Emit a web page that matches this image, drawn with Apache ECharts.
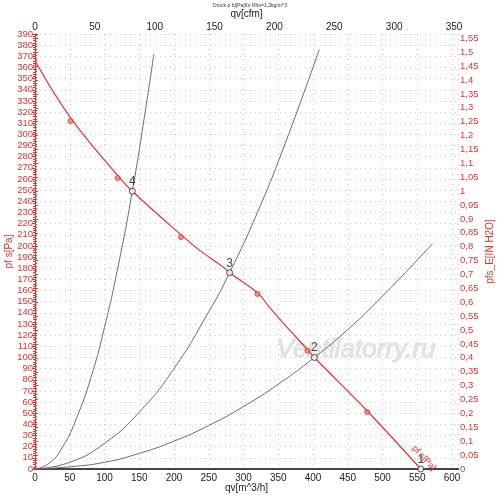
<!DOCTYPE html>
<html>
<head>
<meta charset="utf-8">
<script src="https://cdn.jsdelivr.net/npm/echarts@6/dist/echarts.min.js"></script>
<style>
  html, body { margin: 0; padding: 0; background: #fff; }
  #chart { width: 500px; height: 502px; }
</style>
</head>
<body>
<div id="chart"></div>
<script>
// fan curve pf s [Pa] over qv [m^3/h]
var fanCurve = [[0,366],[51,315],[119,263],[140,249],[210,210],[237,196],[271,181],[280,176],
    [320,158],[336,146],[357,131],[392,107],[402,100],[478,52],[555,0]];
// measured points on the fan curve
var fanPoints = [[51,312],[119,261],[210,208],[320,157],[392,106],[478,51]];
// operating points 1..4
var opPoints = [[555,0,'1'],[402,100,'2'],[280,176,'3'],[140,249,'4']];
// system curves
var sysCurve4 = [[0,0],[20,5],[40,20],[60,46],[80,81],[100,127],[120,183],[140,249],[160,326],[171,372]];
var sysCurve3 = [[0,0],[50,6],[100,23],[150,51],[200,90],[250,141],[280,176],[320,230],[360,292],[409,376]];
var sysCurve2 = [[0,0],[50,2],[100,6],[150,14],[200,25],[250,39],[300,56],[350,76],[402,100],[450,125],[500,155],[572,202]];

var RED = '#e8302c';
var paToInH2O = 1 / 249.089;

function comma(v){
    return String(+v.toFixed(2)).replace('.', ',');
}

var chartDom = document.getElementById('chart');
var myChart = echarts.init(chartDom);
var option;

option = {
    animation: false,
    textStyle: { fontFamily: 'Liberation Sans, Arial, sans-serif' },
    grid: { left: 35, right: 42, top: 34, bottom: 33, containLabel: false, outerBoundsMode: 'none' },
    xAxis: [
        {
            type: 'value', position: 'bottom', min: 0, max: 608.6, interval: 50,
            name: 'qv[m^3/h]', nameLocation: 'middle', nameGap: 14, nameMoveOverlap: false,
            nameTextStyle: { color: '#222', fontSize: 10 },
            axisLine: { lineStyle: { color: '#222', width: 2 } },
            axisTick: { show: false },
            axisLabel: { color: '#222', fontSize: 10, margin: 4, showMaxLabel: false },
            splitLine: { show: true, lineStyle: { color: '#c8c8c8', type: [1, 4] } }
        },
        {
            type: 'value', position: 'top', min: 0, max: 353.3, interval: 50,
            name: 'qv[cfm]', nameLocation: 'middle', nameGap: 15, nameMoveOverlap: false,
            nameTextStyle: { color: '#222', fontSize: 10 },
            axisLine: { lineStyle: { color: '#444', width: 2 } },
            axisTick: { show: false },
            axisLabel: { color: '#222', fontSize: 10, margin: 2, showMaxLabel: false },
            splitLine: { show: false }
        }
    ],
    yAxis: [
        {
            type: 'value', position: 'left', min: 0, max: 390, interval: 10,
            name: 'pf s[Pa]', nameLocation: 'middle', nameGap: 21, nameRotate: 90, nameMoveOverlap: false,
            nameTextStyle: { color: RED, fontSize: 10 },
            axisLine: { show: true, lineStyle: { color: RED, width: 1 } },
            axisTick: { show: true, length: 3, lineStyle: { color: RED } },
            minorTick: { show: true, splitNumber: 5, length: 2, lineStyle: { color: RED } },
            axisLabel: { color: RED, fontSize: 9.5, margin: 2 },
            splitLine: { show: true, lineStyle: { color: '#c8c8c8', type: [1, 4] } }
        },
        {
            type: 'value', position: 'right', min: 0, max: 390 * paToInH2O, interval: 0.05,
            name: 'pfs_E[IN H2O]', nameLocation: 'middle', nameGap: 27, nameRotate: 90, nameMoveOverlap: false,
            nameTextStyle: { color: RED, fontSize: 10 },
            axisLine: { show: true, lineStyle: { color: RED, width: 1 } },
            axisTick: { show: true, length: 3, inside: false, lineStyle: { color: RED } },
            minorTick: { show: true, splitNumber: 5, length: 2, lineStyle: { color: RED } },
            axisLabel: { color: RED, fontSize: 9.5, margin: 2, showMaxLabel: false, formatter: comma },
            splitLine: { show: false }
        }
    ],
    series: [
        {
            type: 'line', data: sysCurve4, smooth: true, symbol: 'none',
            lineStyle: { color: '#6a6a6a', width: 1 }, z: 2
        },
        {
            type: 'line', data: sysCurve3, smooth: true, symbol: 'none',
            lineStyle: { color: '#6a6a6a', width: 1 }, z: 2
        },
        {
            type: 'line', data: sysCurve2, smooth: true, symbol: 'none',
            lineStyle: { color: '#6a6a6a', width: 1 }, z: 2
        },
        {
            type: 'line', data: fanCurve, smooth: 0.4, symbol: 'none',
            lineStyle: { color: RED, width: 1.2 }, z: 3
        },
        {
            type: 'scatter', data: fanPoints, symbol: 'circle', symbolSize: 5,
            itemStyle: { color: '#f27a72', borderColor: RED, borderWidth: 1 }, z: 4
        },
        {
            type: 'scatter', data: opPoints, symbol: 'circle', symbolSize: 6,
            itemStyle: { color: '#fff', borderColor: '#222', borderWidth: 1 },
            label: {
                show: true, position: 'top', distance: 0, color: '#111', fontSize: 12,
                formatter: function (p) { return p.value[2]; }
            },
            z: 5
        }
    ],
    graphic: [
        {
            type: 'text', left: 'center', top: 3,
            style: { text: 'Druck p fd[Pa]für Rho=1,2kg/m^3', fontSize: 5, fill: '#333' }
        },
        {
            type: 'text', x: 356, y: 350,
            style: {
                text: 'Ventilatorry.ru', fontSize: 26, fontStyle: 'italic',
                fontFamily: 'Liberation Sans, Arial, sans-serif',
                fill: '#e4e4e4', stroke: '#c4c4c4', lineWidth: 0.6,
                align: 'center', verticalAlign: 'middle'
            },
            z: 1
        },
        {
            type: 'text', x: 424, y: 458, rotation: -Math.PI / 4 * 1.05,
            style: {
                text: 'pf s[Pa]', fontSize: 9, fill: RED,
                align: 'center', verticalAlign: 'middle'
            },
            z: 6
        }
    ]
};
option && myChart.setOption(option);
</script>
</body>
</html>
